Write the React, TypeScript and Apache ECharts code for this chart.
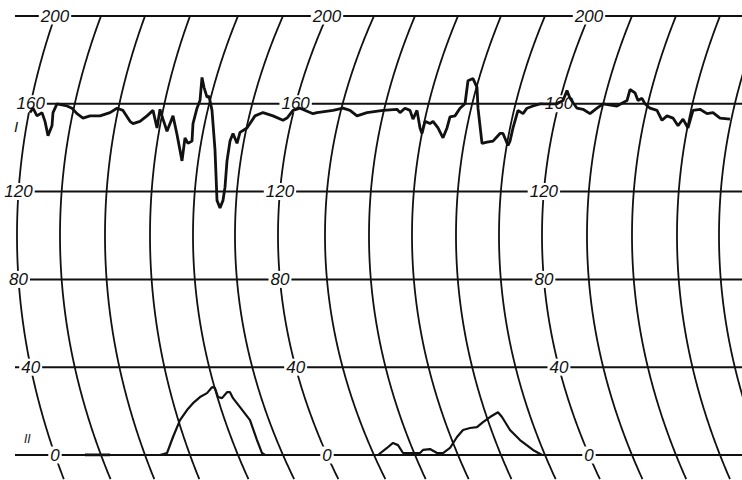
import React, { useEffect, useRef } from "react";
import * as echarts from "echarts";

// Scale levels printed on the chart paper
const levelTicks = [0, 40, 80, 120, 160, 200];
// Curved time lines of the recorder paper: x where each arc meets the 0/200 lines, and x at mid-scale
const arcEdgeX = [55, 101, 145, 190, 238, 283, 327, 374, 415, 458, 501, 545, 589, 632, 676, 720, 763];
const arcMidX = [17, 60, 105, 150, 193, 235, 278, 325, 369, 412, 456, 499, 542, 587, 632, 677, 719];
// Arcs carrying the scale numbers
const labelArcs = [0, 6, 12];

// Trace I (upper record)
const traceI: [number, number][] = [
  [30, 156], [33, 158], [37, 154.5], [42, 156], [45, 152], [48, 145.5], [52, 150], [53, 156],
  [57, 160], [62, 159.5], [67, 159], [72, 158], [77, 155.5], [83, 153.5], [90, 154.5], [100, 154.5],
  [110, 156], [117, 158], [123, 157], [130, 152], [133, 151], [140, 152], [147, 154.5], [153, 157],
  [157, 149], [160, 157.5], [163, 153], [167, 147.5], [173, 154.5], [177, 146], [182, 134], [185, 144.5],
  [188, 142], [192, 143], [193, 151], [197, 158], [200, 161.5], [202, 172], [204, 167.5], [207, 163],
  [209, 163.5], [212, 157], [215, 139], [217, 116], [220, 112.5], [223, 116], [225, 122], [227, 134],
  [230, 143], [233, 146.5], [237, 142], [240, 147], [247, 149], [250, 151], [255, 154.5], [263, 156],
  [273, 154.5], [283, 152.5], [287, 153.5], [293, 157], [300, 158], [313, 155.5], [317, 156], [333, 157],
  [343, 158], [350, 157], [357, 154.5], [367, 156], [383, 157], [397, 157.5], [400, 156], [405, 158],
  [410, 157], [413, 153], [417, 157], [420, 149], [422, 146.5], [425, 152], [430, 151], [433, 152],
  [438, 149], [443, 144.5], [447, 149], [450, 154], [455, 154.5], [460, 158], [465, 160], [468, 170.5],
  [473, 171.5], [477, 167.5], [478, 158], [482, 142], [487, 142.5], [493, 143], [500, 146.5], [503, 146.5],
  [508, 141], [510, 143], [513, 149], [518, 157], [523, 155.5], [527, 158], [533, 159], [540, 160],
  [557, 160], [563, 161.5], [567, 166], [570, 162.5], [577, 158], [583, 157.5], [590, 155.5], [597, 158],
  [603, 160], [617, 159], [627, 161.5], [630, 166.5], [635, 165], [638, 161.5], [642, 162.5], [645, 160],
  [650, 158], [657, 157], [662, 152.5], [667, 154.5], [673, 153.5], [678, 150], [683, 153], [688, 149],
  [693, 157], [700, 157.5], [707, 155.5], [713, 156], [720, 153.5], [730, 153],
];

// Trace II (lower record), split where it runs hidden under the zero line
const traceIIa: [number, number][] = [[85, 0], [110, 0]];
const traceIIb: [number, number][] = [
  [160, 0], [167, 0.9], [173, 8.2], [180, 15.9], [187, 20.5], [193, 23.6], [200, 26.4], [207, 28.2],
  [212, 30.9], [215, 30.5], [218, 26.4], [222, 25.9], [227, 28.6], [230, 28.6], [233, 25.9], [240, 21.8],
  [250, 15.9], [257, 6.8], [262, 0.9], [265, 0], [317, 0],
];
const traceIIc: [number, number][] = [
  [372, 0], [378, 0], [387, 3.2], [393, 5.5], [398, 4.5], [403, 0.9], [420, 0.9], [423, 2.3],
  [430, 2.7], [437, 0.9], [443, 0.9], [450, 3.2], [457, 8.2], [463, 11.4], [470, 12.3], [477, 12.7],
  [483, 15], [490, 17.3], [498, 19.5], [502, 17.3], [510, 11.4], [520, 6.8], [533, 2.3], [542, 0],
];

const INK = "#111";
const arcX = (edge: number, mid: number, v: number) =>
  mid + (edge - mid) * Math.pow((v - 100) / 100, 2);

export default function App() {
  const ref = useRef<HTMLDivElement>(null);
  useEffect(() => {
    const chart = echarts.init(ref.current!, null, { renderer: "svg" });
    const traceSeries = (data: [number, number][], w: number) => ({
      type: "line",
      data,
      showSymbol: false,
      symbol: "none",
      z: 5,
      lineStyle: { color: INK, width: w },
      silent: true,
    });
    const labelData: [number, number][] = [];
    labelArcs.forEach((a) => levelTicks.forEach((v) => labelData.push([a, v])));
    chart.setOption({
      animation: false,
      backgroundColor: "#fff",
      grid: { left: 0, right: 0, top: 16, bottom: 25 },
      xAxis: { type: "value", min: 0, max: 742, show: false },
      yAxis: { type: "value", min: 0, max: 200, show: false },
      graphic: [
        { type: "text", x: 14, y: 119, style: { text: "I", font: "italic 15px 'Liberation Sans', sans-serif", fill: INK } },
        { type: "text", x: 24, y: 433, style: { text: "II", font: "italic 12px 'Liberation Sans', sans-serif", fill: INK } },
      ],
      series: [
        {
          type: "custom",
          z: 1,
          silent: true,
          data: levelTicks.map((v) => [0, v]),
          renderItem: (_p: any, api: any) => {
            const v = api.value(1);
            const a = api.coord([15, v]);
            const b = api.coord([742, v]);
            return {
              type: "line",
              shape: { x1: a[0], y1: a[1], x2: b[0], y2: b[1] },
              style: { stroke: INK, lineWidth: 2 },
            };
          },
        },
        {
          type: "custom",
          z: 1,
          silent: true,
          data: arcEdgeX.map((e, i) => [e, arcMidX[i]]),
          renderItem: (_p: any, api: any) => {
            const e = api.value(0);
            const m = api.value(1);
            const pts: number[][] = [];
            for (let v = 200; v >= -11; v -= 1) pts.push(api.coord([arcX(e, m, v), v]));
            return {
              type: "polyline",
              shape: { points: pts },
              style: { stroke: INK, lineWidth: 1.8, fill: null },
            };
          },
        },
        {
          type: "custom",
          z: 3,
          silent: true,
          data: labelData,
          renderItem: (_p: any, api: any) => {
            const a = api.value(0);
            const v = api.value(1);
            const p = api.coord([arcX(arcEdgeX[a], arcMidX[a], v), v]);
            return {
              type: "text",
              x: p[0],
              y: p[1],
              style: {
                text: String(v),
                font: "italic 17px 'Liberation Sans', Arial, sans-serif",
                fill: INK,
                align: "center",
                verticalAlign: "middle",
                backgroundColor: "#fff",
                padding: [0, 2],
              },
            };
          },
        },
        traceSeries(traceI, 2.8),
        traceSeries(traceIIa, 3),
        traceSeries(traceIIb, 2.2),
        traceSeries(traceIIc, 2.2),
      ],
    });
    return () => chart.dispose();
  }, []);
  return (
    <div
      ref={ref}
      style={{ position: "fixed", left: 0, top: 0, width: 742, height: 480, background: "#fff" }}
    />
  );
}
